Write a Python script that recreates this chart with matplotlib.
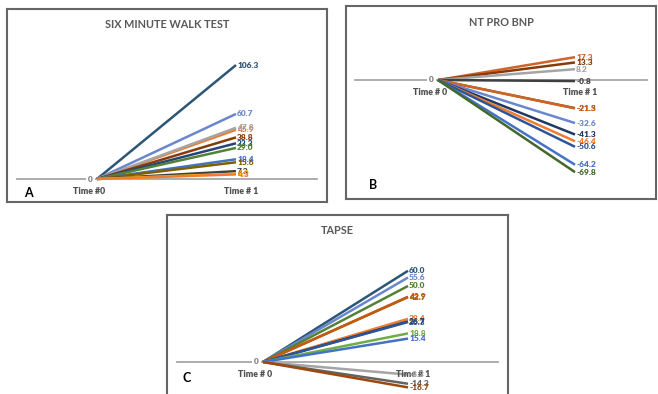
import numpy as np
import matplotlib.pyplot as plt

plt.rcParams['font.family'] = ['Lato', 'DejaVu Sans']

# six minute walk test, change from time 0 to time 1
walk_vals = [106.3, 60.7, 45.9, 47.8, 38.8, 33.3, 29.0, 18.4, 15.6, 7.3, 4.9, 4.3]
walk_cols = ['#2B5676', '#6A86CC', '#ED7D31', '#A5A5A5', '#843C0C', '#264478',
             '#548235', '#4472C4', '#7F6000', '#404040', '#FFC000', '#ED7D31']

# nt pro bnp
bnp_vals = [17.3, 13.3, 8.2, -0.8, -21.3, -21.5, -32.6, -41.3, -46.4, -50.6, -64.2, -69.8]
bnp_cols = ['#D0632A', '#843C0C', '#A5A5A5', '#404040', '#7F6000', '#D0632A',
            '#6A86CC', '#203864', '#ED7D31', '#2F5597', '#4472C4', '#43682B']

# tapse
tapse_vals = [60.0, 55.6, 50.0, 42.7, 42.9, 28.4, 26.7, 26.3, 18.8, 15.4, -8.3, -14.3, -16.7]
tapse_cols = ['#2B5676', '#6A86CC', '#548235', '#7F6000', '#C55A11', '#ED7D31',
              '#203864', '#2F5597', '#70AD47', '#4472C4', '#A5A5A5', '#636363', '#9E480E']

times = [0, 1]
W, H = 658, 394


def panel(fig, box, x0, x1, y0, ppu, vals, cols, title, t0, t1):
    # box = left, top, right, bottom in pixels
    l, t, r, b = box
    ax = fig.add_axes([l / W, 1 - b / H, (r - l) / W, (b - t) / H])
    pu = x1 - x0
    ax.set_xlim(-(x0 - l) / pu, 1 + (r - x1) / pu)
    ax.set_ylim(-(b - y0) / ppu, (y0 - t) / ppu)
    ax.set_xticks([])
    ax.set_yticks([])
    for s in ax.spines.values():
        s.set_color('#666666')
        s.set_linewidth(1.5)
    ax.axhline(0, xmin=0.03, xmax=0.97, color='#A6A6A6', lw=1.3, zorder=1)
    for v, c in zip(vals, cols):
        ax.plot(times, [0, v], color=c, lw=1.8, zorder=3, solid_capstyle='butt')
        ax.annotate(f'{v:.1f}', (1, v), xytext=(0.8, 0), textcoords='offset points',
                    ha='left', va='center', fontsize=6, fontweight='heavy', color=c, zorder=4)
    ax.annotate('0', (0, 0), xytext=(-3, 0), textcoords='offset points', ha='right',
                va='center', fontsize=6, fontweight='heavy', color='#7f7f7f', zorder=5,
                bbox=dict(boxstyle='square,pad=0.25', fc='white', ec='none'))
    ax.annotate(t0, (0, 0), xytext=(-6, -9), textcoords='offset points', ha='center',
                va='center', fontsize=6.3, fontweight='heavy', color='#505050')
    ax.annotate(t1, (1, 0), xytext=(4, -9), textcoords='offset points', ha='center',
                va='center', fontsize=6.3, fontweight='heavy', color='#505050')
    ax.text(0.5, 1 - 16 / (b - t), title, transform=ax.transAxes, ha='center', va='center',
            fontsize=7.8, fontweight='bold', color='#595959')
    return ax


fig = plt.figure(figsize=(W / 100, H / 100), dpi=100)

axA = panel(fig, (7, 9, 327, 202), 97, 236, 179, 1.072, walk_vals, walk_cols,
            'SIX MINUTE WALK TEST', 'Time #0', 'Time # 1')
axA.text(21 / 320, 1 - 184 / 193, 'A', transform=axA.transAxes, ha='center', va='center',
         fontsize=9, fontweight='bold', color='black')

axB = panel(fig, (346, 6, 656, 199), 438, 575, 80, 1.32, bnp_vals, bnp_cols,
            'NT PRO BNP', 'Time # 0', 'Time # 1')
axB.text(27 / 310, 1 - 179 / 193, 'B', transform=axB.transAxes, ha='center', va='center',
         fontsize=9, fontweight='bold', color='black')

axC = panel(fig, (167, 215, 508, 398), 263, 408, 362, 1.52, tapse_vals, tapse_cols,
            'TAPSE', 'Time # 0', 'Time # 1')
axC.text(20 / 341, 1 - 163 / 183, 'C', transform=axC.transAxes, ha='center', va='center',
         fontsize=9, fontweight='bold', color='black')

fig.savefig('out.png', dpi=100)
